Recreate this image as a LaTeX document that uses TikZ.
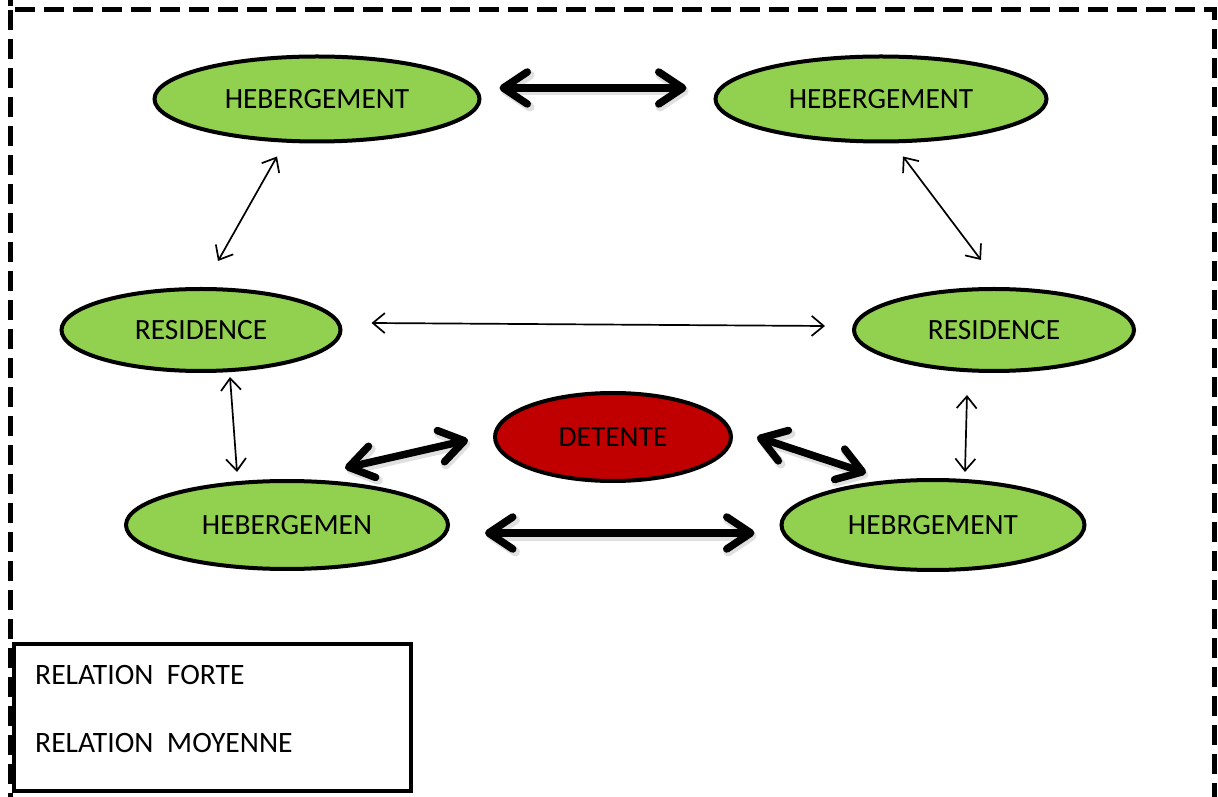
\documentclass[tikz,border=0pt]{standalone}
\usepackage{fontspec}
\setmainfont{Carlito}
\usetikzlibrary{arrows.meta,calc,shapes.geometric}
\definecolor{leaf}{HTML}{92D050}
\definecolor{brick}{HTML}{C00000}
\begin{document}
\begin{tikzpicture}[x=1pt,y=1pt,
  bubble/.style={ellipse,draw=black,line width=4pt,fill=leaf,inner sep=0pt,
    font=\fontsize{29.4}{34}\selectfont},
  strong/.style={line width=7.5pt,
    {Straight Barb[length=24pt,width=32pt,round]}-{Straight Barb[length=24pt,width=32pt,round]}},
  strongshade/.style={line width=9pt,draw=black,opacity=0.12,
    {Straight Barb[length=24pt,width=32pt,round]}-{Straight Barb[length=24pt,width=32pt,round]}},
  medium/.style={line width=1.7pt,
    {Straight Barb[length=12pt,width=20pt]}-{Straight Barb[length=12pt,width=20pt]}},
  legtext/.style={anchor=west,inner sep=0pt,font=\fontsize{29.6}{34}\selectfont}]
\useasboundingbox (0,0) rectangle (1218,796);

% dashed frame around the whole scheme
\draw[line width=5pt,dash pattern=on 20pt off 9pt] (10,810) -- (10,786) -- (1214,786) -- (1214,-10);
\draw[line width=5pt,dash pattern=on 20pt off 9pt] (10,786) -- (10,-10);

% places
\node[bubble,minimum width=325pt,minimum height=85pt] (h1) at (317,697) {HEBERGEMENT};
\node[bubble,minimum width=331pt,minimum height=85pt] (h2) at (881,697) {HEBERGEMENT};
\node[bubble,minimum width=279pt,minimum height=82pt] (r1) at (201,466) {RESIDENCE};
\node[bubble,minimum width=280pt,minimum height=82pt] (r2) at (994,466) {RESIDENCE};
\node[bubble,fill=brick,minimum width=236pt,minimum height=88pt] (d) at (613,359) {DETENTE};
\node[bubble,minimum width=322pt,minimum height=88pt] (h3) at (287,271) {HEBERGEMEN};
\node[bubble,minimum width=303pt,minimum height=90pt] (h4) at (933,271) {HEBRGEMENT};

% strong relations: soft shadow first, then the arrow
\begin{scope}[transform canvas={shift={(2pt,-3pt)}}]
\draw[strongshade] ($(h1.east)+(18,11)$) -- ($(h2.west)+(-27,11)$);
\draw[strongshade] ($(h3.north)+(58,11)$) -- ($(d.west)+(-25,-3)$);
\draw[strongshade] ($(d.east)+(24,0)$) -- ($(h4.north)+(-67,5)$);
\draw[strongshade] ($(h3.east)+(35,-8)$) -- ($(h4.west)+(-25,-8)$);
\end{scope}
\draw[strong] ($(h1.east)+(18,11)$) -- ($(h2.west)+(-27,11)$);
\draw[strong] ($(h3.north)+(58,11)$) -- ($(d.west)+(-25,-3)$);
\draw[strong] ($(d.east)+(24,0)$) -- ($(h4.north)+(-67,5)$);
\draw[strong] ($(h3.east)+(35,-8)$) -- ($(h4.west)+(-25,-8)$);

% medium relations
\draw[medium] ($(h1.south)+(-40,-13)$) -- ($(r1.north)+(17,26)$);
\draw[medium] ($(h2.south)+(22,-13)$) -- ($(r2.north)+(-13,27)$);
\draw[medium] ($(r1.east)+(29,7)$) -- ($(r2.west)+(-27,4)$);
\draw[medium] ($(r1.south)+(29,-4)$) -- ($(h3.north)+(-50,7)$);
\draw[medium] ($(r2.south)+(-27,-22)$) -- ($(h4.north)+(32,6)$);

% legend
\node[draw,line width=4pt,minimum width=397pt,minimum height=147pt,inner sep=0pt] (leg) at (212,78.5) {};
\node[legtext] (lf) at (35,121) {RELATION\ \ FORTE};
\node[legtext] (lm) at (35,53) {RELATION\ \ MOYENNE};
\end{tikzpicture}
\end{document}
